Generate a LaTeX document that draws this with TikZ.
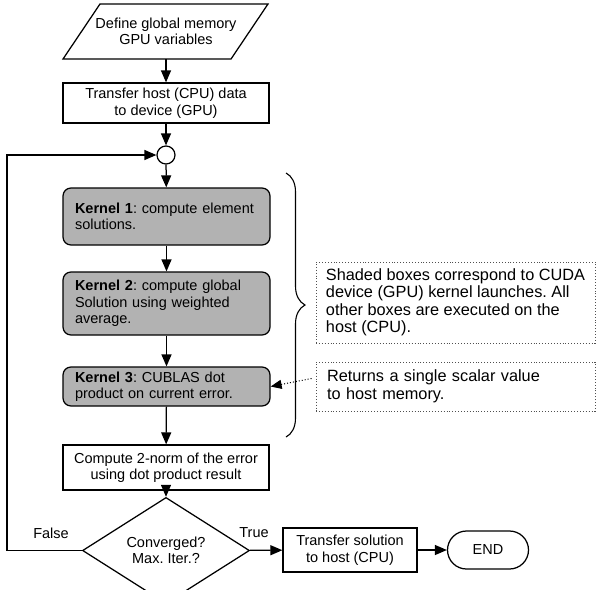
\documentclass[tikz,border=0pt]{standalone}
\usepackage{fontspec}
\setmainfont{Liberation Sans}
\usetikzlibrary{arrows.meta,shapes.geometric,shapes.misc,decorations.pathreplacing}
\definecolor{kgray}{RGB}{178,178,178}
\definecolor{ngray}{RGB}{80,80,80}
\frenchspacing
\begin{document}
\begin{tikzpicture}[x=1pt,y=-1pt,
  every node/.style={font=\fontsize{14.5}{16.5}\selectfont},
  box/.style={draw,line width=1.25pt,align=center,minimum width=206pt,inner sep=0pt},
  kbox/.style={draw,line width=1.25pt,fill=kgray,rounded corners=8pt,text width=183pt,align=left,inner xsep=12pt,inner ysep=0pt},
  note/.style={draw=ngray,dotted,line width=0.9pt,align=left,minimum width=279pt,inner sep=0pt,font=\fontsize{16.3}{17.5}\selectfont},
  arr/.style={-{Triangle[length=12pt,width=10pt]},line width=1.25pt},
  lbl/.style={inner sep=0pt}
]
\useasboundingbox (0,0) rectangle (596,589);
% input parallelogram
\node[align=center,minimum height=55pt,inner sep=0pt] (def) at (166,31.5) {Define global memory\\GPU variables};
\draw[line width=1.25pt] (63,59) -- (100,4) -- (268,4) -- (231,59) -- cycle;
\node[box,minimum height=40pt] (trans) at (166,103) {Transfer host (CPU) data\\to device (GPU)};
\node[draw,circle,line width=1.25pt,minimum size=18pt,inner sep=0pt] (join) at (166,155) {};
\node[kbox,minimum height=57pt] (k1) at (166.5,216.5) {\textbf{Kernel 1}: compute element\\solutions.};
\node[kbox,minimum height=63pt] (k2) at (166.5,303.5) {\textbf{Kernel 2}: compute global\\Solution using weighted\\average.};
\node[kbox,minimum height=39pt] (k3) at (166.5,386.5) {\textbf{Kernel 3}: CUBLAS dot\\product on current error.};
\node[box,minimum height=45pt] (comp) at (166,467.5) {Compute 2-norm of the error\\using dot product result};
\node[draw,diamond,line width=1.25pt,minimum width=167pt,minimum height=75pt,inner sep=0pt,align=center] (dia) at (166,550.5) {Converged?\\Max. Iter.?};
\node[box,minimum width=134pt,minimum height=44pt] (tsol) at (350,550) {Transfer solution\\to host (CPU)};
\node[draw,rounded rectangle,line width=1.25pt,minimum width=81pt,minimum height=38pt,inner sep=0pt] (fin) at (488,550) {END};
% notes
\node[note,minimum height=81pt] (n1) at (455.5,302.5) {Shaded boxes correspond to CUDA\\device (GPU) kernel launches. All\\other boxes are executed on the\\host (CPU).};
\node[note,minimum height=49pt,text width=257pt,inner xsep=11pt] (n2) at (455.5,386.5) {Returns a single scalar value\\to host memory.};
% brace
\draw[decorate,decoration={brace,amplitude=19pt},line width=1.1pt] (286,173) -- (286,437);
% labels
\node[lbl] (flab) at (51,533) {False};
\node[lbl] (tlab) at (254,533) {True};
% connectors
\draw[arr] (def) -- (trans);
\draw[arr] (trans) -- (join);
\draw[arr] (join) -- (k1);
\draw[arr] (k1) -- (k2);
\draw[arr] (k2) -- (k3);
\draw[arr] (k3) -- (comp);
\draw[arr] (comp) -- (dia);
\draw[arr] (dia) -- (tsol);
\draw[arr] (tsol) -- (fin);
\coordinate (lb) at (7,550.5);
\coordinate (lt) at (7,155);
\draw[arr] (dia.west) -- (lb) -- (lt) -- (join.west);
\draw[dotted,line width=1pt,-{Triangle[length=11pt,width=9pt]}] ([xshift=-4pt,yshift=8pt]n2.west) -- (k3.east);
\end{tikzpicture}
\end{document}
